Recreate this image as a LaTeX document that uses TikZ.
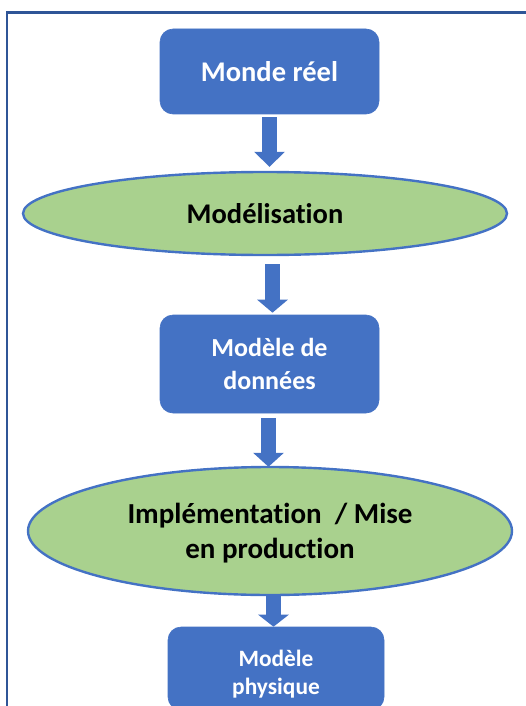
\documentclass[tikz,border=0pt]{standalone}
\usepackage{fontspec}
\setmainfont{Carlito}[Ligatures={NoCommon}]
\usetikzlibrary{shapes.geometric,arrows.meta}
\definecolor{boxblue}{HTML}{4472C4}
\definecolor{framecol}{HTML}{2F5597}
\definecolor{ellgreen}{HTML}{A9D18E}
\tikzset{
  bluebox/.style={rectangle, rounded corners=13pt, fill=boxblue, draw=boxblue, line width=0.6pt,
    text=white, align=center, inner sep=0pt, font=\bfseries},
  greenell/.style={ellipse, fill=ellgreen, draw=boxblue, line width=2.4pt,
    text=black, align=center, inner sep=0pt, font=\bfseries},
  blockarrow/.style={draw=boxblue, line width=15pt, -{Triangle[width=30pt,length=#1]}},
  blockarrow/.default=14pt
}
\begin{document}
\begin{tikzpicture}[x=1pt,y=-1pt]
\useasboundingbox (0,0) rectangle (525,706);
% frame
\coordinate (fbl) at (7,720);
\coordinate (ftl) at (7,12.5);
\coordinate (ftr) at (540,12.5);
\draw[framecol, line width=2.6pt] (fbl) -- (ftl) -- (ftr);
% nodes
\node[bluebox, minimum width=219pt, minimum height=85pt,
  font=\bfseries\fontsize{28.5}{34}\selectfont] (b1) at (269.5,71.5) {Monde réel};
\node[greenell, minimum width=484pt, minimum height=83pt,
  font=\bfseries\fontsize{28.5}{34}\selectfont] (e1) at (265,213.5) {Modélisation};
\node[bluebox, minimum width=219pt, minimum height=98pt,
  font=\bfseries\fontsize{26}{33}\selectfont] (b2) at (269.5,364) {Modèle de\\données};
\node[greenell, minimum width=484pt, minimum height=128pt] (e2) at (270,531) {};
\node[text=black, align=center, inner sep=0pt, font=\bfseries\fontsize{29}{35}\selectfont]
  (e2t) at ([yshift=-2.5pt]e2.center) {Implémentation\ \ / Mise\\en production};
\node[bluebox, minimum width=216pt, minimum height=83pt] (b3) at (276,668.5) {};
\node[text=white, align=center, inner sep=0pt, font=\bfseries\fontsize{23.4}{28}\selectfont]
  (b3t) at ([yshift=-6pt]b3.center) {Modèle\\physique};
% arrows
\draw[blockarrow=15pt] ([yshift=-3pt]b1.south) -- ([xshift=4.5pt,yshift=4pt]e1.north);
\draw[blockarrow=13pt] ([xshift=7.5pt,yshift=-8pt]e1.south) -- ([xshift=3pt,yshift=2pt]b2.north);
\draw[blockarrow=14pt] ([xshift=-1pt,yshift=-5pt]b2.south) -- ([xshift=-1.5pt,yshift=-1pt]e2.north);
\draw[blockarrow=12pt] ([xshift=3.5pt]e2.south) -- ([xshift=-2.5pt]b3.north);
\end{tikzpicture}
\end{document}
